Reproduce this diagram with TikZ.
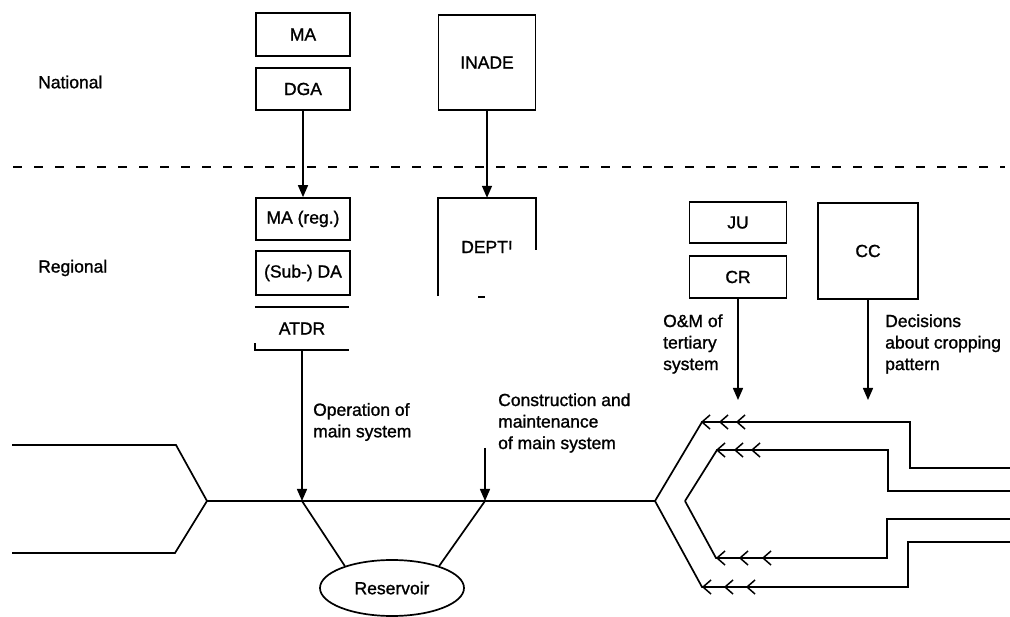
\documentclass[tikz,border=0pt]{standalone}
\usepackage{fontspec}
\setmainfont{Liberation Sans}[BoldFont={Liberation Sans},BoldFeatures={FakeBold=1.2}]
\usetikzlibrary{arrows.meta,shapes.geometric}
\begin{document}
\begin{tikzpicture}[x=1pt,y=-1pt,
  every node/.style={font=\fontsize{17.5}{21.5}\selectfont\bfseries},
  box/.style={draw,line width=1.7pt,inner sep=0pt},
  ln/.style={line width=1.7pt},
  arr/.style={line width=1.5pt,-{Triangle[width=10pt,length=12pt]}},
  chev/.style={line width=1.5pt},
  lbl/.style={align=left,inner sep=0pt,anchor=west},
]
\useasboundingbox (0,0) rectangle (1010,617);

% level labels and divider
\node[anchor=west,inner sep=0pt] (nat) at (38,82) {National};
\node[anchor=west,inner sep=0pt] (reg) at (38,268) {Regional};
\draw[line width=1.8pt,dash pattern=on 9pt off 12pt] (13,167) -- (1005,167);

% national boxes
\node[box,minimum width=94pt,minimum height=43pt] (ma) at (303,34.5) {MA};
\node[box,minimum width=94pt,minimum height=42pt] (dga) at (303,89) {DGA};
\node[box,minimum width=97pt,minimum height=95pt] (inade) at (487,62.5) {INADE};

% regional boxes
\node[box,minimum width=94pt,minimum height=42pt] (mareg) at (303,219) {MA (reg.)};
\node[box,minimum width=94pt,minimum height=44pt] (subda) at (303,273) {(Sub-) DA};
\node[minimum width=98pt,minimum height=98pt,inner sep=0pt] (dept) at (487,247) {DEPT!};
\draw[ln] (dept.south west) -- (dept.north west) -- (dept.north east) -- ([yshift=-3pt]dept.east);
\fill[white] (504,250) rectangle (517,258);
\draw[ln] (478,297) -- (485,297);

\node[box,minimum width=97pt,minimum height=41pt] (ju) at (738,222.5) {JU};
\node[box,minimum width=97pt,minimum height=42pt] (cr) at (738,277) {CR};
\node[box,minimum width=100pt,minimum height=96pt] (cc) at (868,251) {CC};

\node[minimum width=94pt,minimum height=43pt,inner sep=0pt] (atdr) at (302,328.5) {ATDR};
\draw[ln] (atdr.north west) -- (atdr.north east);
\draw[ln] ([yshift=7pt]atdr.south west) -- (atdr.south west) -- (atdr.south east);

% national -> regional arrows
\draw[arr] (dga.south) -- (mareg.north);
\draw[arr] (inade.south) -- (dept.north);

% main system
\coordinate (jl) at (207,501);
\coordinate (jr) at (655,501);
\coordinate (jr2) at (685,501);
\coordinate (op) at (302,501);
\coordinate (cs0) at (485,448);
\coordinate (cs) at (485,501);
\draw[ln] (jl) -- (jr);
\draw[ln] (12,445) -- (176,445) -- (jl) -- (175,553) -- (12,553);

\node[draw,ellipse,line width=1.7pt,minimum width=144pt,minimum height=56pt,inner sep=0pt] (res) at (392,588) {Reservoir};
\draw[ln] (op) -- (res.155);
\draw[ln] (cs) -- (res.25);

\draw[arr] (atdr.south) -- (op);
\draw[arr] (cs0) -- (cs);

\node[lbl] (opl) at (313,422) {Operation of\\main system};
\node[lbl] (csl) at (498,423) {Construction and\\maintenance\\of main system};

% tertiary system
\coordinate (crend) at (738,400);
\coordinate (ccend) at (868,400);
\draw[arr] (cr.south) -- (crend);
\draw[arr] (cc.south) -- (ccend);
\node[lbl] (oml) at (663,344) {O\&M of\\tertiary\\system};
\node[lbl] (dcl) at (885,344) {Decisions\\about cropping\\pattern};

\draw[ln] (jr) -- (702,422) -- (910,422) -- (910,468) -- (1010,468);
\draw[ln] (jr2) -- (717,450) -- (888,450) -- (888,491) -- (1010,491);
\draw[ln] (jr2) -- (716,558) -- (887,558) -- (887,519) -- (1010,519);
\draw[ln] (jr) -- (702,587) -- (908,587) -- (908,542) -- (1010,542);

\foreach \x/\y in {702/422,720/422,737/422,717/450,735/450,752/450,717/558,740/558,763/558,703/587,725/587,747/587}
  \draw[chev] (\x+8,\y-7) -- (\x,\y) -- (\x+8,\y+7);
\end{tikzpicture}
\end{document}
